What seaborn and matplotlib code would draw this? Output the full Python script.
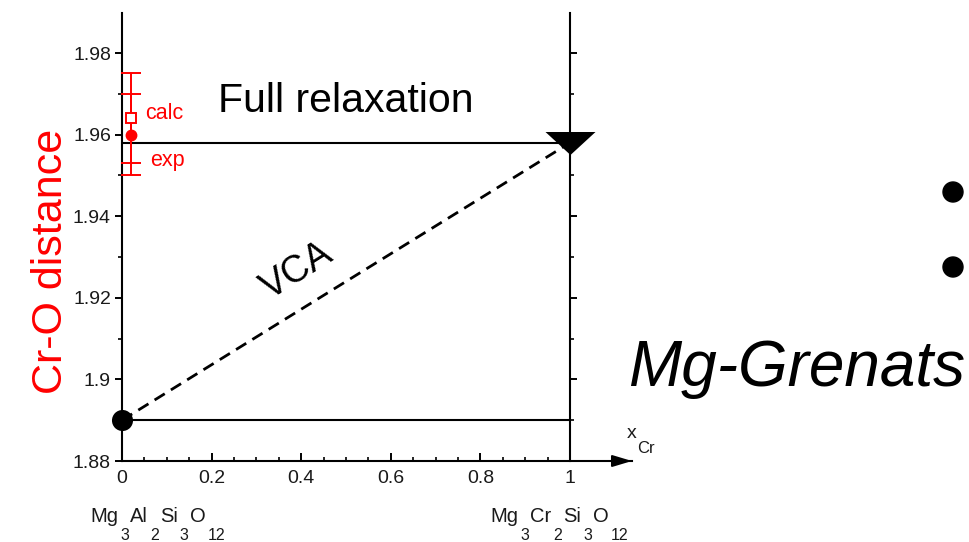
import numpy as np
import matplotlib
matplotlib.use("Agg")
import matplotlib.pyplot as plt
import seaborn as sns
from matplotlib.path import Path
from matplotlib.patches import Ellipse
from matplotlib.ticker import FixedLocator, MultipleLocator

# Cr fraction of the two end members and the Cr-O distances along the join
x_cr = [0.0, 1.0]
full_relaxation = [1.958, 1.958]
vca = [1.890, 1.958]
pyrope_level = [1.890, 1.890]

# reference Cr-O distances for the dilute limit
ref_x = [0.021, 0.021]
ref_labels = ["calc", "exp"]
ref_values = [1.964, 1.960]
ref_errors = [0.011, 0.010]

x_ticks = [0.0, 0.2, 0.4, 0.6, 0.8, 1.0]
x_ticklabels = ["0", "0.2", "0.4", "0.6", "0.8", "1"]
y_ticks = [1.88, 1.90, 1.92, 1.94, 1.96, 1.98]
y_ticklabels = ["1.88", "1.9", "1.92", "1.94", "1.96", "1.98"]

RED = "#ff0000"
INK = "#1a1a1a"

sns.set_style("white")
plt.rcParams["font.family"] = ["Liberation Sans", "DejaVu Sans"]
plt.rcParams["mathtext.fontset"] = "custom"
plt.rcParams["mathtext.rm"] = "Liberation Sans"

W, H = 969, 542
fig = plt.figure(figsize=(W / 100, H / 100), dpi=100)
fig.patch.set_facecolor("white")

# axes: x from 0 to the arrow tip, y from 1.88 upward
ax = fig.add_axes([122 / W, 1 - 461 / H, 510 / W, 448 / H])
ax.set_xlim(0, 510 / 448)
ax.set_ylim(1.88, 1.88 + 448 / 4080)
ax.set_facecolor("none")

for side in ("top", "right"):
    ax.spines[side].set_visible(False)
for side in ("left", "bottom"):
    ax.spines[side].set_linewidth(1.5)
    ax.spines[side].set_color("black")

ax.xaxis.set_major_locator(FixedLocator(x_ticks))
ax.set_xticklabels(x_ticklabels)
ax.xaxis.set_minor_locator(FixedLocator(np.arange(0, 1.0001, 0.05)))
ax.yaxis.set_major_locator(FixedLocator(y_ticks))
ax.set_yticklabels(y_ticklabels)
ax.yaxis.set_minor_locator(MultipleLocator(0.01))

ax.tick_params(axis="x", which="major", direction="in", length=6, width=1.4,
               pad=6.5, labelsize=14, labelcolor=INK, color="black", bottom=True)
ax.tick_params(axis="x", which="minor", direction="in", length=3, width=1.2,
               color="black", bottom=True)
ax.tick_params(axis="y", which="major", direction="out", length=5, width=1.4,
               pad=3, labelsize=14, labelcolor=INK, color="black", left=True)
ax.tick_params(axis="y", which="minor", direction="out", length=3, width=1.2,
               color="black", left=True)

# vertical line at x = 1 carrying its own ticks on the right side
sec = ax.secondary_yaxis(1.0 / (510 / 448))
sec.yaxis.set_major_locator(FixedLocator(y_ticks))
sec.yaxis.set_minor_locator(MultipleLocator(0.01))
sec.tick_params(axis="y", which="major", direction="out", length=5, width=1.4,
                labelright=False, labelleft=False, color="black")
sec.tick_params(axis="y", which="minor", direction="out", length=3, width=1.2,
                color="black")
for s in sec.spines.values():
    s.set_linewidth(1.5)
    s.set_color("black")

# arrow head on the composition axis
ax.annotate("", xy=(1.0, 0), xycoords="axes fraction", xytext=(0.9, 0),
            arrowprops=dict(arrowstyle="-|>,head_length=1.2,head_width=0.36",
                            mutation_scale=10, color="black", lw=1.4,
                            shrinkA=0, shrinkB=0), annotation_clip=False)

# distance lines
sns.lineplot(x=x_cr, y=full_relaxation, ax=ax, color="black", linewidth=1.5)
sns.lineplot(x=x_cr, y=pyrope_level, ax=ax, color="black", linewidth=1.5)
sns.lineplot(x=x_cr, y=vca, ax=ax, color="black", linewidth=2.0,
             linestyle=(0, (4.3, 2.6)))

# end-member markers
sns.scatterplot(x=[x_cr[0]], y=[vca[0]], ax=ax, s=230, color="black",
                marker="o", linewidth=0, clip_on=False, zorder=6)
flat_triangle = Path([(-1, 0.46), (1, 0.46), (0, -0.46), (-1, 0.46)],
                     [Path.MOVETO, Path.LINETO, Path.LINETO, Path.CLOSEPOLY])
sns.scatterplot(x=[x_cr[1]], y=[full_relaxation[1]], ax=ax, s=36 ** 2,
                color="black", marker=flat_triangle, linewidth=0,
                clip_on=False, zorder=6)

# reference values with error bars
ax.errorbar(ref_x[1], ref_values[1], yerr=ref_errors[1], fmt="o", ms=7.5,
            color=RED, ecolor=RED, elinewidth=1.4, capsize=7, capthick=1.4,
            zorder=7, clip_on=False)
ax.errorbar(ref_x[0], ref_values[0], yerr=ref_errors[0], fmt="s", ms=7.5,
            mfc="white", mec=RED, mew=1.4, ecolor=RED, elinewidth=1.4,
            capsize=7, capthick=1.4, zorder=8, clip_on=False)
ax.text(0.051, 1.9638, ref_labels[0], color=RED, fontsize=15.5,
        ha="left", va="baseline")
ax.text(0.0625, 1.9523, ref_labels[1], color=RED, fontsize=15.5,
        ha="left", va="baseline")

# annotations on the lines
ax.text(0.2143, 1.9655, "Full relaxation", fontsize=29.5, color="black",
        ha="left", va="baseline")
ax.text(0.392, 1.9265, "VCA", fontsize=27, color="black", rotation=32,
        ha="center", va="center", rotation_mode="anchor")

fig.text(51 / W, 1 - 261.5 / H, "Cr-O distance", rotation=90, color=RED,
         fontsize=31, ha="center", va="center")


def chem_label(xy, parts, main_size, sub_size, sub_drop, sub_gap, main_gap):
    """Write a formula piece by piece with deep, large subscripts."""
    first = prev = None
    for text, is_sub in parts:
        if prev is None:
            t = ax.annotate(text, xy=xy, xycoords="figure pixels",
                            ha="left", va="baseline", fontsize=main_size,
                            color=INK, annotation_clip=False)
            first = t
        elif is_sub:
            t = ax.annotate(text, xy=(1, 0), xycoords=prev,
                            xytext=(sub_gap, sub_drop), textcoords="offset points",
                            ha="left", va="top", fontsize=sub_size,
                            color=INK, annotation_clip=False)
        else:
            t = ax.annotate(text, xy=(1, 0), xycoords=(prev, first),
                            xytext=(main_gap, 0), textcoords="offset points",
                            ha="left", va="bottom", fontsize=main_size,
                            color=INK, annotation_clip=False)
        prev = t


pyrope = [("Mg", False), ("3", True), ("Al", False), ("2", True),
          ("Si", False), ("3", True), ("O", False), ("12", True)]
knorringite = [("Mg", False), ("3", True), ("Cr", False), ("2", True),
               ("Si", False), ("3", True), ("O", False), ("12", True)]
axis_name = [("x", False), ("Cr", True)]

chem_label((90, H - 522), pyrope, 14.5, 11.5, -1.2, 1.5, 0.8)
chem_label((490, H - 522), knorringite, 14.5, 11.5, -1.2, 1.5, 0.8)
chem_label((627, H - 438), axis_name, 14, 12, 0.7, 0.4, 0.4)

# slide text on the right
fig.text(628 / W, 1 - 386 / H, "Mg-Grenats", fontsize=46, style="italic",
         color="black", ha="left", va="baseline")
for cy in (192, 267):
    fig.add_artist(Ellipse((953 / W, 1 - cy / H), 20 / W, 20 / H,
                           transform=fig.transFigure, color="black"))

fig.savefig("out.png", dpi=100, facecolor="white")
